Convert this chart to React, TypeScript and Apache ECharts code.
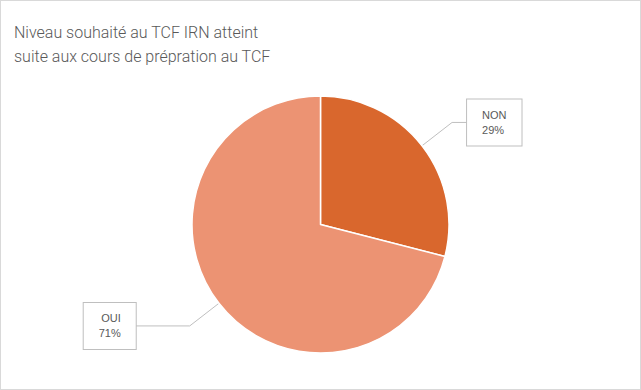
import React, { useEffect, useRef } from "react";
import * as echarts from "echarts";

const titleLines = ["Niveau souhaité au TCF IRN atteint", "suite aux cours de prépration au TCF"];
const categories = ["NON", "OUI"];
const values = [29, 71];
const colors = ["#D9672D", "#EC9373"];
const lineLengths = [38, 37];
const lineLengths2 = [15, 54];

export default function App() {
  const ref = useRef<HTMLDivElement>(null);
  useEffect(() => {
    document.body.style.margin = "0";
    const chart = echarts.init(ref.current!, undefined, { renderer: "svg" });
    chart.setOption({
      animation: false,
      backgroundColor: "#ffffff",
      title: {
        text: titleLines.join("\n"),
        left: 8,
        top: 14,
        textStyle: {
          fontFamily: "Roboto",
          fontWeight: 300,
          fontSize: 16,
          lineHeight: 24,
          color: "#595959",
        },
      },
      series: [
        {
          type: "pie",
          center: [319.5, 223.5],
          radius: 128.5,
          startAngle: 90,
          clockwise: true,
          itemStyle: { borderColor: "#ffffff", borderWidth: 1.5 },
          label: {
            show: true,
            position: "outside",
            formatter: (p: any) => `${p.name}\n${Math.round(p.percent)}%`,
            fontFamily: "Liberation Sans",
            fontSize: 11,
            lineHeight: 15,
            color: "#595959",
            backgroundColor: "#ffffff",
            borderColor: "#BFBFBF",
            borderWidth: 1,
            padding: [8, 15, 8, 15],
            distanceToLabelLine: 0,
          },
          labelLine: {
            show: true,
            lineStyle: { color: "#BFBFBF", width: 1 },
          },
          data: categories.map((c, i) => ({
            name: c,
            value: values[i],
            itemStyle: { color: colors[i] },
            labelLine: { length: lineLengths[i], length2: lineLengths2[i] },
          })),
        },
      ],
    });
    return () => chart.dispose();
  }, []);
  return (
    <div
      style={{
        position: "absolute",
        left: 0,
        top: 0,
        width: 641,
        height: 390,
        boxSizing: "border-box",
        border: "1px solid #D9D9D9",
        background: "#fff",
      }}
    >
      <div ref={ref} style={{ width: 639, height: 388 }} />
    </div>
  );
}
